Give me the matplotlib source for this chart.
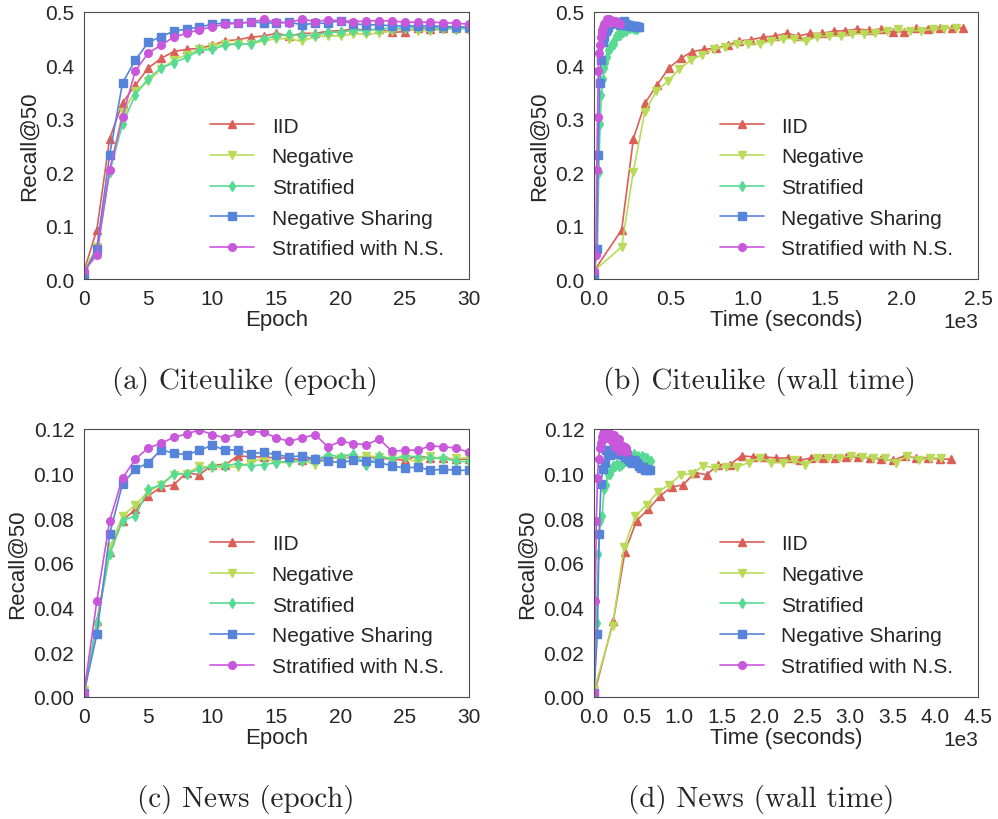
import numpy as np
import matplotlib
matplotlib.use("Agg")
import matplotlib.pyplot as plt
import seaborn as sns

sns.set_style("white")
plt.rcParams['font.family'] = ['Liberation Sans', 'DejaVu Sans']

# --- data ---
methods = ["IID", "Negative", "Stratified", "Negative Sharing", "Stratified with N.S."]
markers = ["^", "v", "d", "s", "o"]
colors = sns.color_palette("hls", 5)

epochs = np.arange(31)

# Citeulike, recall@50 per epoch
cite = {
    "IID": [0.015, 0.092, 0.263, 0.330, 0.363, 0.395, 0.413, 0.426, 0.430, 0.432, 0.438,
            0.446, 0.448, 0.453, 0.455, 0.460, 0.455, 0.460, 0.460, 0.464, 0.465, 0.468,
            0.466, 0.468, 0.462, 0.463, 0.470, 0.468, 0.470, 0.470, 0.470],
    "Negative": [0.015, 0.060, 0.200, 0.312, 0.352, 0.370, 0.393, 0.410, 0.420, 0.430, 0.435,
                 0.440, 0.441, 0.440, 0.446, 0.450, 0.450, 0.445, 0.454, 0.455, 0.455, 0.459,
                 0.459, 0.460, 0.465, 0.468, 0.465, 0.465, 0.468, 0.469, 0.470],
    "Stratified": [0.015, 0.050, 0.200, 0.290, 0.345, 0.375, 0.395, 0.405, 0.415, 0.428, 0.430,
                   0.438, 0.440, 0.440, 0.450, 0.455, 0.458, 0.456, 0.456, 0.462, 0.462, 0.466,
                   0.465, 0.468, 0.470, 0.470, 0.472, 0.470, 0.470, 0.469, 0.469],
    "Negative Sharing": [0.010, 0.057, 0.233, 0.367, 0.410, 0.443, 0.454, 0.464, 0.468, 0.472,
                         0.477, 0.480, 0.479, 0.481, 0.480, 0.479, 0.481, 0.476, 0.479, 0.479,
                         0.484, 0.478, 0.476, 0.476, 0.474, 0.474, 0.474, 0.474, 0.473, 0.472,
                         0.472],
    "Stratified with N.S.": [0.015, 0.045, 0.205, 0.304, 0.390, 0.423, 0.438, 0.453, 0.460,
                             0.467, 0.472, 0.477, 0.479, 0.481, 0.486, 0.481, 0.480, 0.487,
                             0.482, 0.485, 0.484, 0.482, 0.483, 0.484, 0.483, 0.481, 0.481,
                             0.481, 0.480, 0.479, 0.477],
}

# News, recall@50 per epoch
news = {
    "IID": [0.001, 0.034, 0.065, 0.079, 0.084, 0.090, 0.094, 0.095, 0.1005, 0.0995, 0.104,
            0.104, 0.108, 0.1075, 0.1075, 0.107, 0.107, 0.106, 0.107, 0.107, 0.107, 0.1075,
            0.1075, 0.107, 0.1065, 0.106, 0.108, 0.107, 0.107, 0.1065, 0.1065],
    "Negative": [0.003, 0.032, 0.067, 0.081, 0.086, 0.092, 0.095, 0.0995, 0.100, 0.1035,
                 0.1025, 0.103, 0.103, 0.105, 0.107, 0.105, 0.105, 0.106, 0.104, 0.107, 0.107,
                 0.107, 0.108, 0.1075, 0.107, 0.107, 0.105, 0.108, 0.106, 0.107, 0.107],
    "Stratified": [0.002, 0.033, 0.064, 0.079, 0.081, 0.093, 0.095, 0.100, 0.100, 0.102,
                   0.1035, 0.1035, 0.1045, 0.1035, 0.104, 0.105, 0.1055, 0.1055, 0.106,
                   0.1085, 0.1075, 0.109, 0.104, 0.108, 0.1065, 0.108, 0.1075, 0.107, 0.107,
                   0.1055, 0.1055],
    "Negative Sharing": [0.002, 0.028, 0.073, 0.0955, 0.102, 0.1048, 0.1107, 0.1092, 0.1085,
                         0.1104, 0.1128, 0.1104, 0.1107, 0.109, 0.1095, 0.1085, 0.1075, 0.108,
                         0.1065, 0.1055, 0.105, 0.106, 0.1055, 0.105, 0.1035, 0.1025, 0.103,
                         0.1015, 0.102, 0.1015, 0.1015],
    "Stratified with N.S.": [0.002, 0.043, 0.079, 0.098, 0.1065, 0.1115, 0.1136, 0.1163,
                             0.1178, 0.1196, 0.1175, 0.116, 0.118, 0.119, 0.1185, 0.116,
                             0.1145, 0.116, 0.1175, 0.112, 0.1145, 0.1135, 0.113, 0.1155,
                             0.110, 0.1105, 0.1105, 0.1125, 0.112, 0.1115, 0.1095],
}

# wall time: seconds at the end of epoch 1, then seconds per later epoch
cite_first = {"IID": 180, "Negative": 180, "Stratified": 22,
              "Negative Sharing": 18, "Stratified with N.S.": 12}
cite_step = {"IID": 76.7, "Negative": 75.0, "Stratified": 8.8,
             "Negative Sharing": 9.5, "Stratified with N.S.": 5.4}
news_first = {"IID": 226, "Negative": 219, "Stratified": 30,
              "Negative Sharing": 39, "Stratified with N.S.": 15}
news_step = {"IID": 136.6, "Negative": 132.8, "Stratified": 22.0,
             "Negative Sharing": 21.3, "Stratified with N.S.": 12.7}


def wall_times(first, step):
    t = np.zeros(len(epochs))
    t[1:] = first + step * (epochs[1:] - 1)
    return t


W, H = 998, 820
fig = plt.figure(figsize=(W / 100, H / 100), dpi=100)


def box(l, t, r, b):
    return [l / W, 1 - b / H, (r - l) / W, (b - t) / H]


ax_a = fig.add_axes(box(84, 13, 469, 280))
ax_b = fig.add_axes(box(594, 13, 978, 280))
ax_c = fig.add_axes(box(84, 430, 469, 698))
ax_d = fig.add_axes(box(594, 430, 978, 698))

FS = 15


def draw(ax, data, xs=None):
    for m, mk, c in zip(methods, markers, colors):
        x = epochs if xs is None else xs[m]
        ax.plot(x, data[m], marker=mk, color=c, label=m, lw=1.2, ms=5.5, mec=c)
    ax.set_ylabel("Recall@50", fontsize=FS + 1)
    ax.tick_params(labelsize=FS)
    for s in ax.spines.values():
        s.set_color("0.3")
    ax.legend(loc="lower left", bbox_to_anchor=(0.328, 0.078), frameon=False,
              fontsize=FS, borderpad=0, borderaxespad=0, handlelength=2.1,
              handletextpad=0.85, labelspacing=0.56)


draw(ax_a, cite)
ax_a.set_xlim(0, 30)
ax_a.set_ylim(0, 0.5)
ax_a.set_xlabel("Epoch", fontsize=FS + 1, labelpad=1)

draw(ax_b, cite, {m: wall_times(cite_first[m], cite_step[m]) for m in methods})
ax_b.set_xlim(0, 2500)
ax_b.set_ylim(0, 0.5)
ax_b.set_xlabel("Time (seconds)", fontsize=FS + 1, labelpad=1)

draw(ax_c, news)
ax_c.set_xlim(0, 30)
ax_c.set_ylim(0, 0.12)
ax_c.set_xlabel("Epoch", fontsize=FS + 1, labelpad=1)

draw(ax_d, news, {m: wall_times(news_first[m], news_step[m]) for m in methods})
ax_d.set_xlim(0, 4500)
ax_d.set_xticks(np.arange(0, 4501, 500))
ax_d.set_ylim(0, 0.12)
ax_d.set_xlabel("Time (seconds)", fontsize=FS + 1, labelpad=1)

for ax in (ax_a, ax_b):
    ax.set_yticks(np.arange(0, 0.51, 0.1))
for ax in (ax_c, ax_d):
    ax.set_yticks(np.arange(0, 0.121, 0.02))
for ax in (ax_b, ax_d):
    ax.ticklabel_format(axis="x", style="sci", scilimits=(0, 0))
    ax.xaxis.get_offset_text().set_fontsize(FS)

captions = ["(a) Citeulike (epoch)", "(b) Citeulike (wall time)",
            "(c) News (epoch)", "(d) News (wall time)"]
cap_pos = [(245, 382), (759, 382), (246, 800), (761, 800)]
for txt, (cx, cy) in zip(captions, cap_pos):
    fig.text(cx / W, 1 - cy / H, txt, ha="center", va="center",
             fontsize=21, family="cmr10")

fig.savefig("out.png", dpi=100)
